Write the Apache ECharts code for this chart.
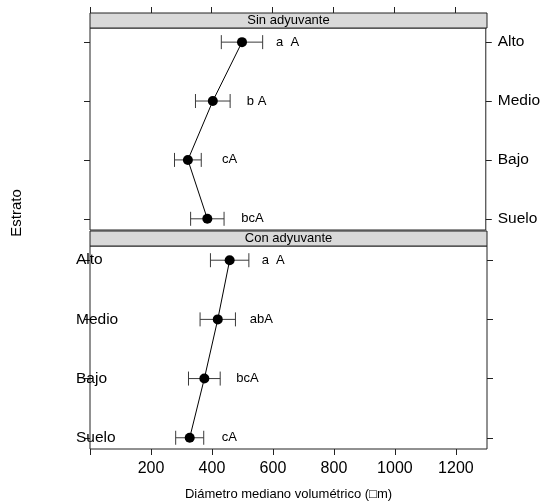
<!DOCTYPE html>
<html>
<head>
<meta charset="utf-8">
<script src="https://cdn.jsdelivr.net/npm/echarts@6/dist/echarts.min.js"></script>
<style>
  html, body { margin: 0; padding: 0; background: #fff; }
  #chart { width: 543px; height: 502px; }
</style>
</head>
<body>
<div id="chart"></div>
<script>
// Strata, top to bottom, and the two panels
const levels = ['Alto', 'Medio', 'Bajo', 'Suelo'];
const panelTitles = ['Sin adyuvante', 'Con adyuvante'];

// Median volumetric diameter (µm): mean and error-bar half width per stratum
const sinMean = [500, 404, 322, 386];
const sinErr = [68, 57, 44, 55];
const sinLetters = ['a  A', 'b A', 'cA', 'bcA'];

const conMean = [458, 419, 375, 327];
const conErr = [63, 58, 52, 46];
const conLetters = ['a  A', 'abA', 'bcA', 'cA'];

// Axis ticks
const xTicks = [0, 200, 400, 600, 800, 1000, 1200];
const xTickLabels = [200, 400, 600, 800, 1000, 1200];
const yTicks = [1, 2, 3, 4];

// Layout
const FONT = 'Liberation Sans, Arial, sans-serif';
const LEFT = 90, WIDTH = 397, STRIP = 15;
const panels = [{ top: 28, height: 202 }, { top: 246, height: 203 }];
const X_MIN = 0, X_MAX = 1302;
const Y_MIN = 0.81, Y_MAX = 4.24;

const levelY = i => levels.length - i;          // Alto -> 4 ... Suelo -> 1
const levelName = v => levels[levels.length - v];

const chart = echarts.init(document.getElementById('chart'), null, { renderer: 'canvas' });

const grids = panels.map(p => ({
  left: LEFT, top: p.top, width: WIDTH, height: p.height,
  show: true, borderColor: '#222', borderWidth: 1, containLabel: false
}));

const baseX = {
  type: 'value', min: X_MIN, max: X_MAX,
  splitLine: { show: false },
  axisLine: { show: false },
  axisTick: { show: true, inside: false, length: 6, customValues: xTicks, lineStyle: { color: '#222' } }
};

const xAxes = [
  Object.assign({}, baseX, {
    gridIndex: 0, position: 'top', offset: STRIP,
    axisLabel: { show: false }
  }),
  Object.assign({}, baseX, {
    gridIndex: 1, position: 'bottom',
    axisLabel: {
      show: true, customValues: xTickLabels, margin: 12,
      formatter: v => String(v),
      fontFamily: FONT, fontSize: 16, color: '#000'
    },
    name: 'Diámetro mediano volumétrico (□m)',
    nameLocation: 'middle', nameGap: 39,
    nameTextStyle: { fontFamily: FONT, fontSize: 13, color: '#000' }
  })
];

function yAxis(grid, pos, withLabels, align, margin) {
  return {
    type: 'value', gridIndex: grid, position: pos, min: Y_MIN, max: Y_MAX,
    splitLine: { show: false },
    axisLine: { show: false },
    axisTick: { show: true, inside: false, length: 6, customValues: yTicks, lineStyle: { color: '#222' } },
    axisLabel: withLabels ? {
      show: true, customValues: yTicks, formatter: v => levelName(v),
      align: align, margin: margin,
      fontFamily: FONT, fontSize: 15.5, color: '#000'
    } : { show: false }
  };
}

const yAxes = [
  yAxis(0, 'left', false),
  yAxis(0, 'right', true, 'left', 12),
  yAxis(1, 'left', true, 'left', 14),
  yAxis(1, 'right', false)
];

function panelSeries(mean, err, letters, gridIdx, labelDist) {
  const xa = gridIdx, ya = gridIdx * 2;
  const bars = mean.map((m, i) => [m - err[i], m + err[i], levelY(i)]);
  const pts = mean.map((m, i) => [m, levelY(i)]);
  return [
    {
      type: 'custom', xAxisIndex: xa, yAxisIndex: ya, z: 2,
      data: bars,
      renderItem: (params, api) => {
        const a = api.coord([api.value(0), api.value(2)]);
        const b = api.coord([api.value(1), api.value(2)]);
        const cap = 7;
        const st = { stroke: '#3a3a3a', lineWidth: 1 };
        return {
          type: 'group',
          children: [
            { type: 'line', shape: { x1: a[0], y1: a[1], x2: b[0], y2: b[1] }, style: st },
            { type: 'line', shape: { x1: a[0], y1: a[1] - cap, x2: a[0], y2: a[1] + cap }, style: st },
            { type: 'line', shape: { x1: b[0], y1: b[1] - cap, x2: b[0], y2: b[1] + cap }, style: st }
          ]
        };
      }
    },
    {
      type: 'line', xAxisIndex: xa, yAxisIndex: ya, z: 3,
      data: pts, symbol: 'none', silent: true,
      lineStyle: { color: '#000', width: 1 }
    },
    {
      type: 'scatter', xAxisIndex: xa, yAxisIndex: ya, z: 4,
      data: pts, symbol: 'circle', symbolSize: 10,
      itemStyle: { color: '#000', opacity: 1 },
      label: {
        show: true, position: 'right', distance: labelDist,
        formatter: p => letters[p.dataIndex],
        fontFamily: FONT, fontSize: 13, color: '#000'
      }
    }
  ];
}

const strips = panels.map((p, k) => ({
  type: 'group',
  children: [
    {
      type: 'rect',
      shape: { x: LEFT, y: p.top - STRIP, width: WIDTH, height: STRIP },
      style: { fill: '#d9d9d9', stroke: '#222', lineWidth: 1 }
    },
    {
      type: 'text',
      x: LEFT + WIDTH / 2, y: p.top - STRIP / 2,
      style: {
        text: panelTitles[k], fill: '#000', font: '13px ' + FONT,
        align: 'center', verticalAlign: 'middle'
      }
    }
  ]
}));

chart.setOption({
  animation: false,
  backgroundColor: '#fff',
  grid: grids,
  xAxis: xAxes,
  yAxis: yAxes,
  series: [].concat(
    panelSeries(sinMean, sinErr, sinLetters, 0, 29),
    panelSeries(conMean, conErr, conLetters, 1, 27)
  ),
  graphic: strips.concat([
    {
      type: 'text', x: 16.5, y: 213, rotation: Math.PI / 2,
      style: {
        text: 'Estrato', fill: '#000', font: '15px ' + FONT,
        align: 'center', verticalAlign: 'middle'
      }
    }
  ])
});
</script>
</body>
</html>
